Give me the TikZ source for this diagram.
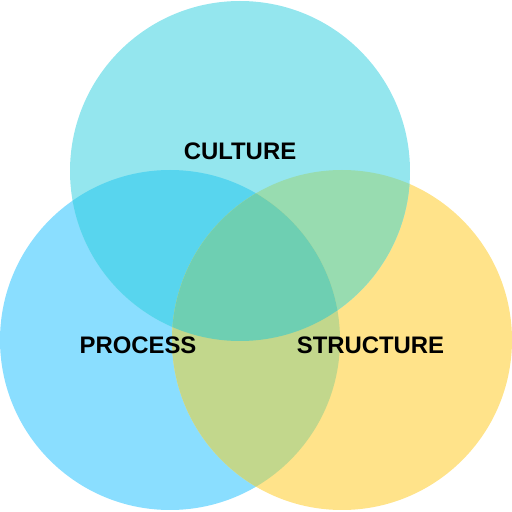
\documentclass[tikz,border=0pt]{standalone}
\usepackage{fontspec}
\setmainfont{Liberation Sans}
\usepackage{tikz}
\usetikzlibrary{positioning}

\definecolor{culturecol}{HTML}{94E6EE}
\definecolor{processcol}{HTML}{8ADEFF}
\definecolor{structurecol}{HTML}{FFE38A}
\definecolor{cpcol}{HTML}{58D5EE}
\definecolor{cscol}{HTML}{98DCB0}
\definecolor{pscol}{HTML}{C2D78C}
\definecolor{allcol}{HTML}{6ECFB2}

\begin{document}
\begin{tikzpicture}
    [
    setlabel/.style={font=\bfseries\fontsize{13.6}{16}\selectfont,text=black,inner sep=0pt},
    ]
    \useasboundingbox (0,0) rectangle (10.24,10.24);
    % circle centres
    \coordinate (c) at (4.8,6.82);
    \coordinate (p) at (3.4,3.44);
    \coordinate (s) at (6.84,3.44);

    \fill [processcol] (p) circle (3.4);
    \fill [structurecol] (s) circle (3.4);
    \fill [culturecol] (c) circle (3.4);
    \begin{scope}
      \clip (c) circle (3.4);
      \fill [cpcol] (p) circle (3.4);
      \fill [cscol] (s) circle (3.4);
    \end{scope}
    \begin{scope}
      \clip (p) circle (3.4);
      \fill [pscol] (s) circle (3.4);
      \clip (s) circle (3.4);
      \fill [allcol] (c) circle (3.4);
    \end{scope}

    \node (culture) at (4.8,7.22) [setlabel] {CULTURE};
    \node (process) at (2.76,3.34) [setlabel] {PROCESS};
    \node (structure) at (7.41,3.34) [setlabel] {STRUCTURE};
\end{tikzpicture}
\end{document}
